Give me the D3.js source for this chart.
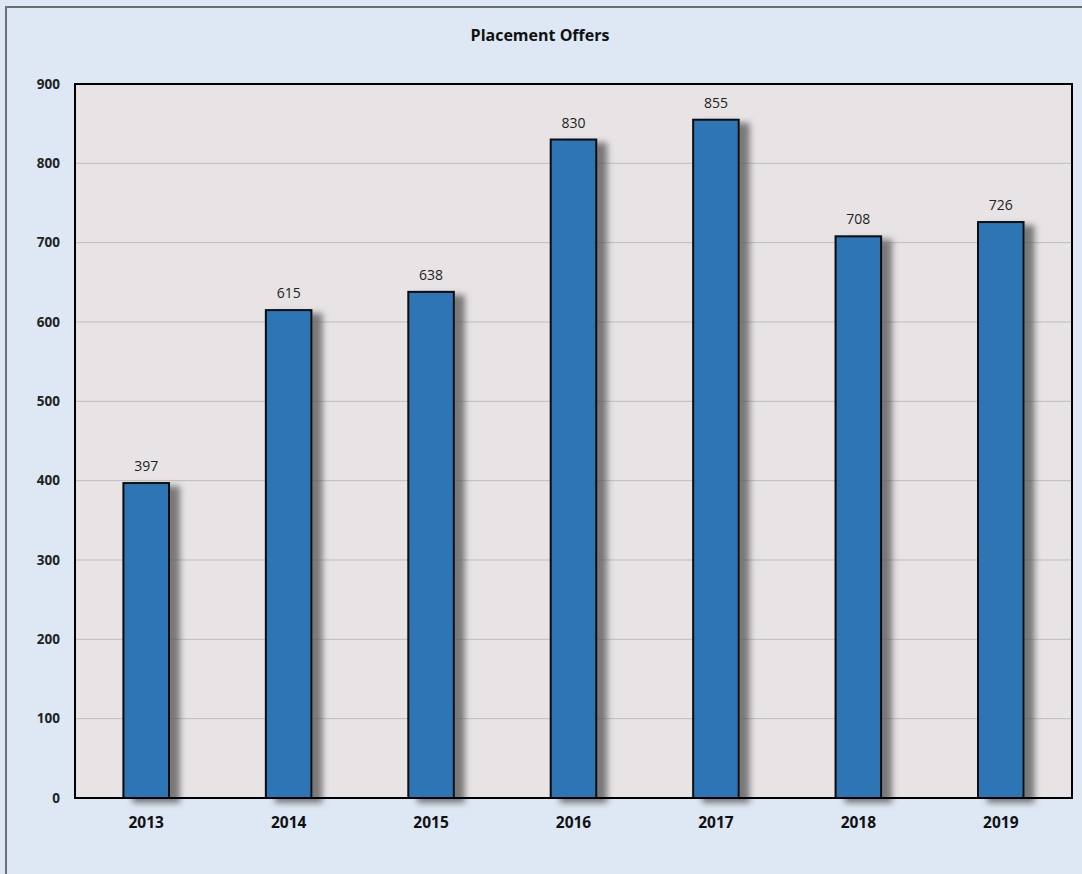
<!DOCTYPE html>
<html>
<head>
<meta charset="utf-8">
<script src="https://cdn.jsdelivr.net/npm/d3@7"></script>
<style>
  body { margin: 0; background: #dde8f4; }
  svg { display: block; font-family: 'Open Sans', 'Noto Sans', sans-serif; }
</style>
</head>
<body>
<svg id="chart"></svg>
<script>
const years = ['2013', '2014', '2015', '2016', '2017', '2018', '2019']
const offers = [397, 615, 638, 830, 855, 708, 726]
const yTicks = [0, 100, 200, 300, 400, 500, 600, 700, 800, 900]

const W = 1082
const H = 874
const margin = { top: 84, right: 10, bottom: 76, left: 75 }
const width = W - margin.left - margin.right
const height = H - margin.top - margin.bottom

const svg = d3.select('#chart').attr('width', W).attr('height', H)

// outer frame (cropped screenshot: only left/top edges visible)
svg.append('rect')
  .attr('x', 6).attr('y', 7)
  .attr('width', W + 20).attr('height', H + 20)
  .attr('fill', '#dde8f4')
  .attr('stroke', '#6b6f74')
  .attr('stroke-width', 2)

const defs = svg.append('defs')
const f = defs.append('filter').attr('id', 'shadow')
  .attr('x', '-20%').attr('y', '-10%').attr('width', '180%').attr('height', '130%')
f.append('feDropShadow')
  .attr('dx', 10).attr('dy', 4)
  .attr('stdDeviation', 3)
  .attr('flood-color', '#555')
  .attr('flood-opacity', 0.75)

svg.append('text')
  .attr('x', 540).attr('y', 41)
  .attr('text-anchor', 'middle')
  .attr('font-size', 16).attr('font-weight', 'bold')
  .attr('fill', '#111')
  .text('Placement Offers')

const g = svg.append('g').attr('transform', `translate(${margin.left}, ${margin.top})`)

const x = d3.scaleBand().domain(years).range([0, width]).paddingInner(0.68).paddingOuter(0.34)
const y = d3.scaleLinear().domain([0, 900]).range([height, 0])

g.append('rect')
  .attr('width', width).attr('height', height)
  .attr('fill', '#e8e4e5')

g.selectAll('.grid')
  .data(yTicks.slice(1, -1))
  .enter()
  .append('line')
  .attr('class', 'grid')
  .attr('x1', 0).attr('x2', width)
  .attr('y1', d => y(d)).attr('y2', d => y(d))
  .attr('stroke', '#bdbdbd')
  .attr('stroke-width', 1)

g.selectAll('.bar')
  .data(offers)
  .enter()
  .append('rect')
  .attr('class', 'bar')
  .attr('x', (d, i) => x(years[i]))
  .attr('y', d => y(d))
  .attr('width', x.bandwidth())
  .attr('height', d => height - y(d))
  .attr('fill', '#2e75b6')
  .attr('stroke', '#0a0a0a')
  .attr('stroke-width', 2)
  .attr('filter', 'url(#shadow)')

g.selectAll('.label')
  .data(offers)
  .enter()
  .append('text')
  .attr('class', 'label')
  .attr('x', (d, i) => x(years[i]) + x.bandwidth() / 2)
  .attr('y', d => y(d) - 12)
  .attr('text-anchor', 'middle')
  .attr('font-size', 14)
  .attr('fill', '#222')
  .text(d => d)

g.append('rect')
  .attr('width', width).attr('height', height)
  .attr('fill', 'none')
  .attr('stroke', '#000')
  .attr('stroke-width', 2)

const yAxis = g.append('g')
  .call(d3.axisLeft(y).tickValues(yTicks).tickSize(0).tickPadding(15))
yAxis.select('.domain').remove()
yAxis.selectAll('text')
  .attr('font-size', 13.5).attr('font-weight', 'bold')
  .attr('fill', '#222')
  .attr('font-family', "'Open Sans', sans-serif")

const xAxis = g.append('g')
  .attr('transform', `translate(0, ${height})`)
  .call(d3.axisBottom(x).tickSize(0).tickPadding(19))
xAxis.select('.domain').remove()
xAxis.selectAll('text')
  .attr('font-size', 15.5).attr('font-weight', 'bold')
  .attr('fill', '#111')
  .attr('font-family', "'Open Sans', sans-serif")
</script>
</body>
</html>
